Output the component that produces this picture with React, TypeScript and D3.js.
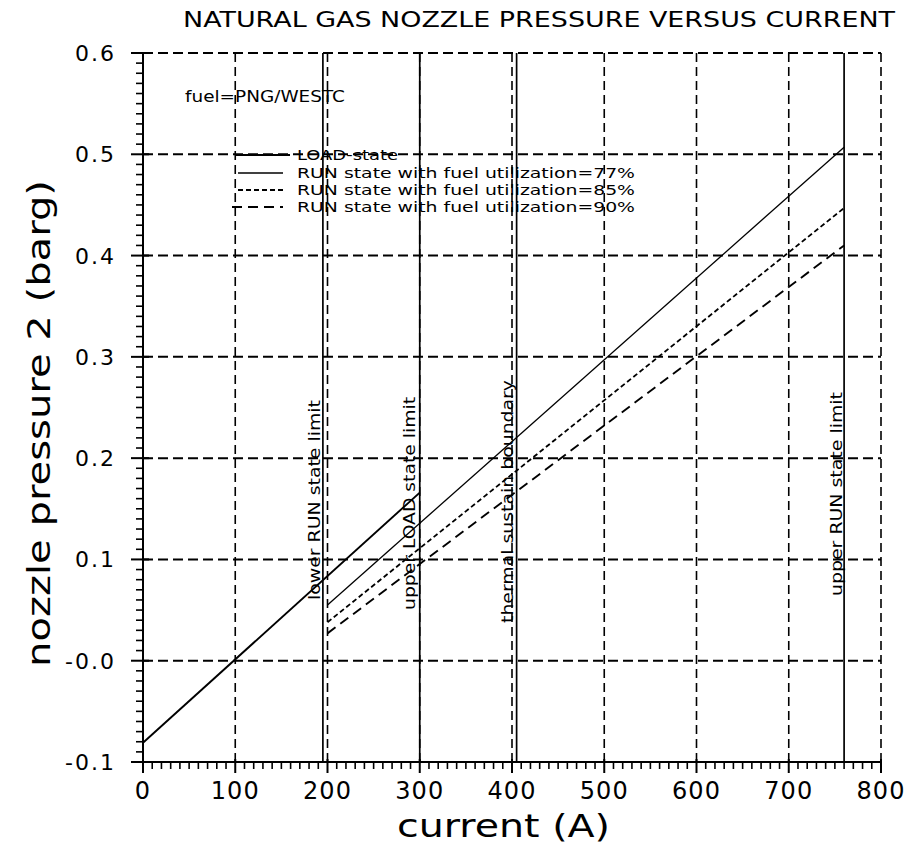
import React from "react";
import * as d3 from "d3";

// ---------- data ----------
const title = "NATURAL GAS NOZZLE PRESSURE VERSUS CURRENT";
const xTitle = "current (A)";
const yTitle = "nozzle pressure 2 (barg)";
const fuelNote = "fuel=PNG/WESTC";

const xTicks = [0, 100, 200, 300, 400, 500, 600, 700, 800];
const xTickLabels = ["0", "100", "200", "300", "400", "500", "600", "700", "800"];
const yTicks = [-0.1, 0.0, 0.1, 0.2, 0.3, 0.4, 0.5, 0.6];
const yTickLabels = ["-0.1", "-0.0", "0.1", "0.2", "0.3", "0.4", "0.5", "0.6"];

const loadCurrent = [0, 300];
const loadPressure = [-0.081, 0.166];
const runCurrent = [200, 760];
const run77Pressure = [0.055, 0.507];
const run85Pressure = [0.038, 0.447];
const run90Pressure = [0.027, 0.41];

const limitCurrents = [195, 300, 405, 760];
const limitLabels = [
  "lower RUN state limit",
  "upper LOAD state limit",
  "thermal sustain boundary",
  "upper RUN state limit",
];

const legendLabels = [
  "LOAD-state",
  "RUN state with fuel utilization=77%",
  "RUN state with fuel utilization=85%",
  "RUN state with fuel utilization=90%",
];

// ---------- layout / style ----------
const W = 909;
const H = 848;
const X0 = 143, X1 = 881, Y0 = 762, Y1 = 53;
const FONT = "DejaVu Sans, sans-serif";
const seriesStyle = [
  { width: 1.9, dash: "none" },
  { width: 1.3, dash: "none" },
  { width: 1.8, dash: "5 3" },
  { width: 1.9, dash: "10 6" },
];
// label placement along limit lines: [bottom px, length px, baseline offset]
const limitLabelLayout = [
  { bottom: 600, len: 200, dx: -3 },
  { bottom: 610, len: 213, dx: -5 },
  { bottom: 623, len: 243, dx: -4 },
  { bottom: 596, len: 204, dx: -2 },
];
const legendRows = [155, 173, 190, 207];

export default function App() {
  const x = d3.scaleLinear().domain([0, 800]).range([X0, X1]);
  const y = d3.scaleLinear().domain([-0.1, 0.6]).range([Y0, Y1]);
  const line = d3
    .line<[number, number]>()
    .x((d) => x(d[0]))
    .y((d) => y(d[1]));

  const series = [
    loadCurrent.map((c, i) => [c, loadPressure[i]] as [number, number]),
    runCurrent.map((c, i) => [c, run77Pressure[i]] as [number, number]),
    runCurrent.map((c, i) => [c, run85Pressure[i]] as [number, number]),
    runCurrent.map((c, i) => [c, run90Pressure[i]] as [number, number]),
  ];

  const minorX = d3.range(0, 801, 10).filter((v) => v % 100 !== 0);
  const minorY = d3.range(-100, 601, 10).map((v) => v / 1000).filter((v, i) => i % 10 !== 0);

  return (
    <svg width={W} height={H} style={{ display: "block", position: "absolute", left: 0, top: 0, background: "#fff" }}>
      <rect x={0} y={0} width={W} height={H} fill="#fff" />
      {/* grid */}
      {yTicks.slice(1).map((t) => (
        <line key={"gy" + t} x1={X0} x2={X1} y1={y(t)} y2={y(t)} stroke="#000" strokeWidth={2} strokeDasharray="10 5" />
      ))}
      {xTicks.slice(1).map((t) => (
        <line key={"gx" + t} x1={x(t)} x2={x(t)} y1={Y0} y2={Y1} stroke="#000" strokeWidth={1.6} strokeDasharray="9 5" />
      ))}
      {/* axes */}
      <line x1={X0} x2={X0} y1={Y0} y2={Y1} stroke="#000" strokeWidth={2} />
      <line x1={X0} x2={X1} y1={Y0} y2={Y0} stroke="#000" strokeWidth={2} />
      {minorY.map((t) => (
        <line key={"my" + t} x1={X0 - 7} x2={X0} y1={y(t)} y2={y(t)} stroke="#000" strokeWidth={1.6} />
      ))}
      {yTicks.map((t) => (
        <line key={"My" + t} x1={X0 - 12} x2={X0 + 6} y1={y(t)} y2={y(t)} stroke="#000" strokeWidth={2} />
      ))}
      {minorX.map((t) => (
        <line key={"mx" + t} x1={x(t)} x2={x(t)} y1={Y0} y2={Y0 + 7} stroke="#000" strokeWidth={1.6} />
      ))}
      {xTicks.map((t) => (
        <line key={"Mx" + t} x1={x(t)} x2={x(t)} y1={Y0 - 3} y2={Y0 + 11} stroke="#000" strokeWidth={2} />
      ))}
      {/* tick labels */}
      {xTicks.map((t, i) => (
        <text key={"xl" + t} x={x(t)} y={799} textAnchor="middle" fontFamily={FONT} fontSize={24} letterSpacing={1}>
          {xTickLabels[i]}
        </text>
      ))}
      {yTicks.map((t, i) => (
        <text key={"yl" + t} x={116} y={y(t) + 8} textAnchor="end" fontFamily={FONT} fontSize={22} letterSpacing={2}>
          {yTickLabels[i]}
        </text>
      ))}
      {/* limit lines */}
      {limitCurrents.map((c) => (
        <line key={"lim" + c} x1={x(c)} x2={x(c)} y1={Y0} y2={Y1} stroke="#000" strokeWidth={1.7} />
      ))}
      {limitCurrents.map((c, i) => {
        const L = limitLabelLayout[i];
        const bx = x(c) + L.dx;
        return (
          <text
            key={"limt" + c}
            transform={`translate(${bx},${L.bottom}) rotate(-90)`}
            fontFamily={FONT}
            fontSize={16}
            textLength={L.len}
            lengthAdjust="spacingAndGlyphs"
          >
            {limitLabels[i]}
          </text>
        );
      })}
      {/* series */}
      {series.map((s, i) => (
        <path
          key={"s" + i}
          d={line(s) || ""}
          fill="none"
          stroke="#000"
          strokeWidth={seriesStyle[i].width}
          strokeDasharray={seriesStyle[i].dash}
        />
      ))}
      {/* legend */}
      <text x={185} y={102} fontFamily={FONT} fontSize={15} textLength={160} lengthAdjust="spacingAndGlyphs">
        {fuelNote}
      </text>
      {legendLabels.map((lab, i) => (
        <g key={"lg" + i}>
          <line
            x1={i === 0 ? 235 : i === 3 ? 232 : 238}
            x2={i === 0 ? 290 : 283}
            y1={legendRows[i]}
            y2={legendRows[i]}
            stroke="#000"
            strokeWidth={seriesStyle[i].width}
            strokeDasharray={seriesStyle[i].dash}
          />
          <text
            x={297}
            y={legendRows[i] + 5}
            fontFamily={FONT}
            fontSize={14}
            textLength={i === 0 ? 101 : 338}
            lengthAdjust="spacingAndGlyphs"
          >
            {lab}
          </text>
        </g>
      ))}
      {/* titles */}
      <text x={183} y={27} fontFamily={FONT} fontSize={21} textLength={712} lengthAdjust="spacingAndGlyphs">
        {title}
      </text>
      <text x={397} y={837} fontFamily={FONT} fontSize={32} textLength={213} lengthAdjust="spacingAndGlyphs">
        {xTitle}
      </text>
      <text
        transform={`translate(50,667) rotate(-90)`}
        fontFamily={FONT}
        fontSize={32}
        textLength={487}
        lengthAdjust="spacingAndGlyphs"
      >
        {yTitle}
      </text>
    </svg>
  );
}
